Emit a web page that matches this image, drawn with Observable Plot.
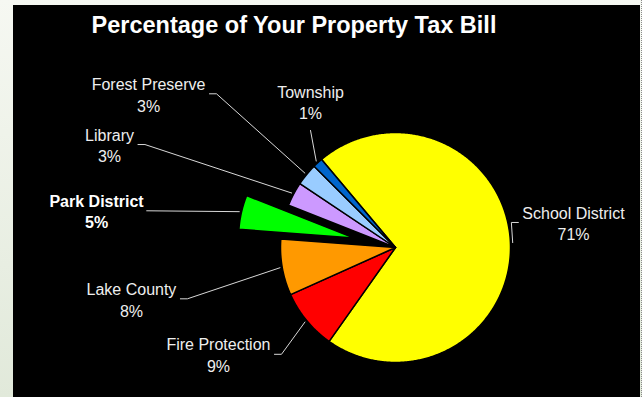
<!DOCTYPE html>
<html><head><meta charset="utf-8">
<script src="https://cdn.jsdelivr.net/npm/d3@7"></script>
<script src="https://cdn.jsdelivr.net/npm/@observablehq/plot@0.6"></script>
<style>
html,body{margin:0;padding:0;}
body{width:642px;height:397px;overflow:hidden;background:linear-gradient(#f6f8f2,#e1e9da);font-family:"Liberation Sans",Arial,sans-serif;}
#wrap{position:relative;width:642px;height:397px;}
#panel{position:absolute;left:13px;top:5px;width:627px;height:392px;background:#000;}
#edge{position:absolute;left:641px;top:0;width:0;height:397px;border-left:1px dotted #8a8a8a;}
#title{position:absolute;left:0;width:588px;top:13px;text-align:center;color:#fff;font-weight:bold;font-size:23.5px;line-height:24px;}
#chart{position:absolute;left:0;top:0;}
</style></head><body>
<div id="wrap"><div id="panel"></div><div id="edge"></div><div id="title">Percentage of Your Property Tax Bill</div><div id="chart"></div></div>
<script>
// ---- data ----
const categories = ["School District","Fire Protection","Lake County","Park District","Library","Forest Preserve","Township"];
const shares = [70.9, 8.5, 7.9, 4.8, 3.4, 3.1, 1.4];
const pctLabels = ["71%","9%","8%","5%","3%","3%","1%"];
const colors = ["#FFFF00","#FF0000","#FF9900","#00FF00","#CC99FF","#99CCFF","#0066CC"];
const exploded = [false,false,false,true,false,false,false];
const boldLabel = [false,false,false,true,false,false,false];

// ---- layout ----
const startAngle = -40;           // degrees clockwise from 12 o'clock
const R = 115;                    // pie radius in px
const CX = 395, CY = 247;         // pie centre in px
const explodeDist = 43 / R;
const labelPolar = [[82.0,1.563],[238.9,1.798],[259.0,2.339],[277.0,2.619],[289.8,2.643],[301.9,2.529],[329.8,1.469]];
const leaderKind = ["right","left","left","straight","left","left","below"];

const rad = d => d * Math.PI / 180;
const total = d3.sum(shares);
let acc = startAngle;
const slices = categories.map((name, i) => {
  const a0 = acc, a1 = acc + shares[i] / total * 360; acc = a1;
  const mid = (a0 + a1) / 2;
  const off = exploded[i] ? explodeDist : 0;
  return {name, i, a0, a1, mid, ox: off * Math.sin(rad(mid)), oy: off * Math.cos(rad(mid))};
});

const polys = [];
for (const s of slices) {
  polys.push({name: s.name, color: colors[s.i], x: s.ox, y: s.oy});
  const n = Math.max(4, Math.ceil((s.a1 - s.a0) / 0.5));
  for (let k = 0; k <= n; k++) {
    const a = rad(s.a0 + (s.a1 - s.a0) * k / n);
    polys.push({name: s.name, color: colors[s.i], x: s.ox + Math.sin(a), y: s.oy + Math.cos(a)});
  }
  polys.push({name: s.name, color: colors[s.i], x: s.ox, y: s.oy});
}

const ctx = document.createElement("canvas").getContext("2d");
const labels = slices.map(s => {
  const [ang, r] = labelPolar[s.i];
  return {name: s.name, text: s.name + "\n" + pctLabels[s.i], bold: boldLabel[s.i],
          x: r * Math.sin(rad(ang)), y: r * Math.cos(rad(ang))};
});

const leaders = [];
slices.forEach((s, i) => {
  const L = labels[i];
  ctx.font = (boldLabel[i] ? "bold " : "") + "16px 'Liberation Sans'";
  const hw = ctx.measureText(s.name).width / 2;
  const a = rad(s.mid);
  const start = {x: s.ox + 1.02 * Math.sin(a), y: s.oy + 1.02 * Math.cos(a)};
  const pts = [start];
  const gap = 4 / R, seg = 7 / R;
  if (leaderKind[i] === "left") {
    const ex = L.x + hw / R + gap;
    pts.push({x: ex + seg, y: L.y}, {x: ex, y: L.y});
  } else if (leaderKind[i] === "right") {
    const ex = L.x - hw / R - gap;
    pts.push({x: ex - seg, y: L.y}, {x: ex, y: L.y});
  } else if (leaderKind[i] === "straight") {
    pts.push({x: L.x + hw / R + 3 / R, y: L.y});
  } else {
    pts.push({x: L.x, y: L.y - 29 / R});
  }
  for (const p of pts) leaders.push({name: s.name, ...p});
});

const chart = Plot.plot({
  width: 642, height: 397,
  margin: 0,
  style: {background: "transparent", color: "#fff", fontFamily: "'Liberation Sans', Arial, sans-serif"},
  x: {type: "linear", domain: [-1, 1], range: [CX - R, CX + R], axis: null},
  y: {type: "linear", domain: [-1, 1], range: [CY + R, CY - R], axis: null},
  color: {type: "identity"},
  marks: [
    Plot.line(leaders, {x: "x", y: "y", z: "name", stroke: "#d8d8d8", strokeWidth: 1, curve: "linear"}),
    Plot.line(polys, {x: "x", y: "y", z: "name", fill: "color", stroke: "#000", strokeWidth: 1.5, strokeLinejoin: "round", curve: "linear"}),
    Plot.text(labels.filter(d => !d.bold), {x: "x", y: "y", text: "text", fill: "#eeeeee", fontSize: 16, lineHeight: 1.35}),
    Plot.text(labels.filter(d => d.bold), {x: "x", y: "y", text: "text", fill: "#ffffff", fontSize: 16, fontWeight: "bold", lineHeight: 1.35})
  ]
});
document.getElementById("chart").appendChild(chart);
</script>
</body></html>
